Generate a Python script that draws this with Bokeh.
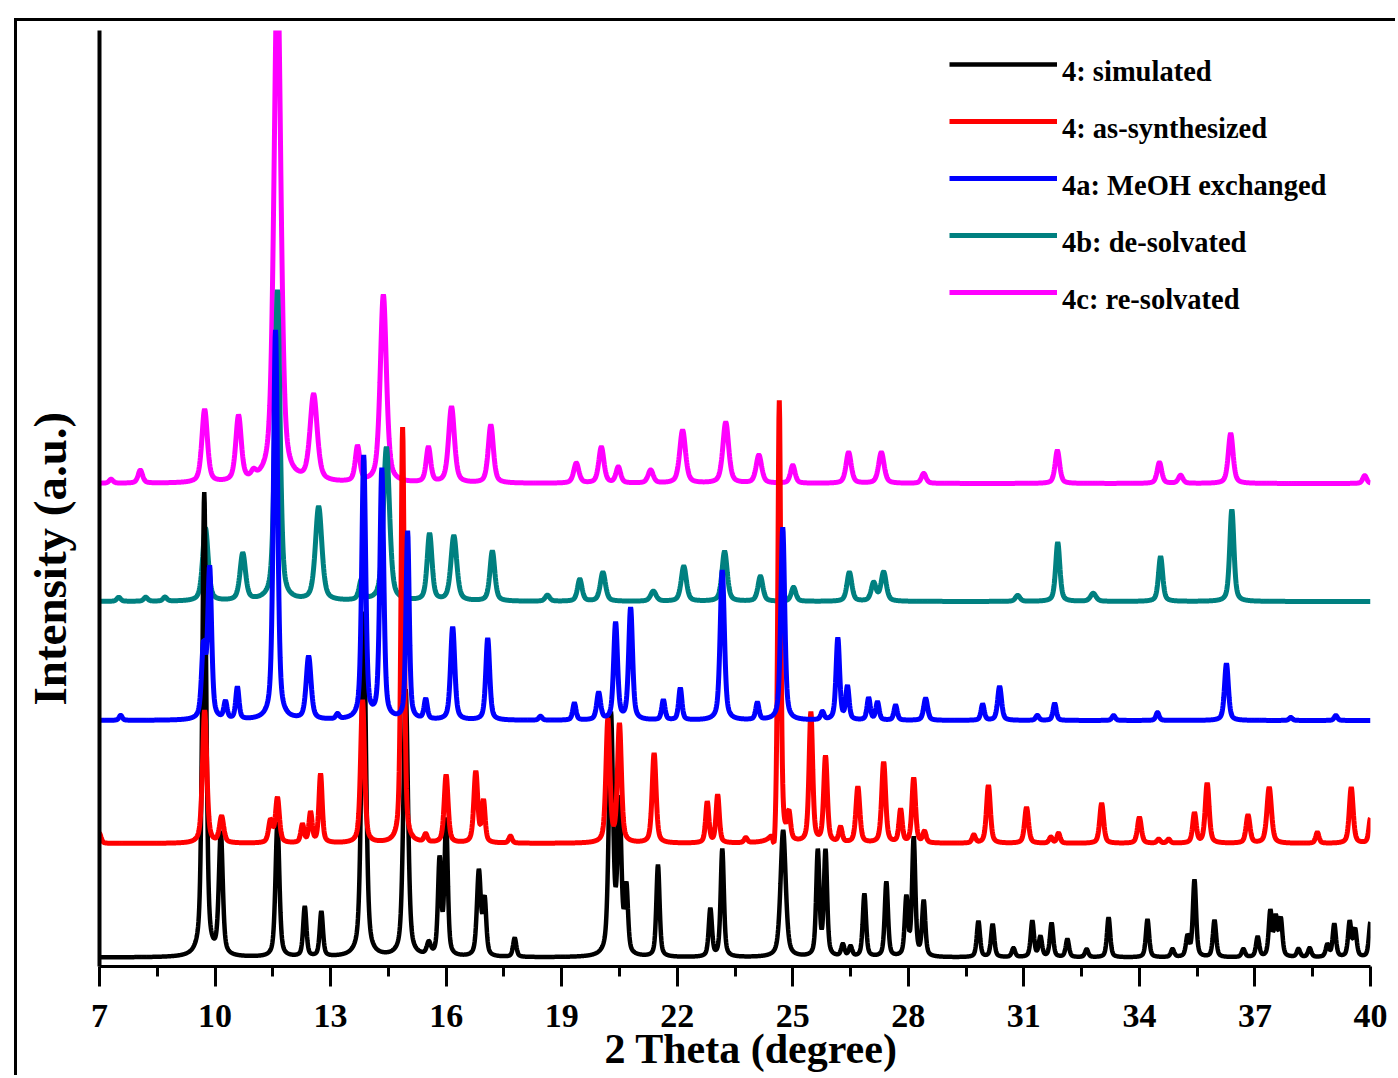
import numpy as np
from bokeh.plotting import figure
from bokeh.models import Range1d, FixedTicker, Legend, LegendItem, Title
from bokeh.embed import file_html
from bokeh.resources import INLINE

# ---- axis ticks -------------------------------------------------------
major_ticks = [7, 10, 13, 16, 19, 22, 25, 28, 31, 34, 37, 40]
minor_ticks = [8.5, 11.5, 14.5, 17.5, 20.5, 23.5, 26.5, 29.5, 32.5, 35.5, 38.5]

# ---- series ------------------------------------------------------------
series_labels = ["4: simulated", "4: as-synthesized", "4a: MeOH exchanged",
                 "4b: de-solvated", "4c: re-solvated"]

# reflections: (2theta, intensity a.u., fwhm)
sim_peaks = [
    (9.72, 464, 0.12), (10.15, 122, 0.12), (11.62, 135, 0.12), (12.33, 50, 0.10),
    (12.76, 45, 0.10), (13.86, 345, 0.14), (14.95, 267, 0.14), (15.55, 12, 0.12),
    (15.83, 95, 0.10), (16.00, 135, 0.10), (16.85, 85, 0.12), (17.00, 55, 0.10),
    (17.78, 19, 0.10), (20.28, 240, 0.13), (20.50, 150, 0.12), (20.68, 65, 0.10),
    (21.50, 92, 0.10), (22.86, 48, 0.10), (23.17, 108, 0.10), (24.75, 127, 0.16),
    (25.65, 105, 0.10), (25.85, 105, 0.10), (26.30, 12, 0.10), (26.50, 10, 0.10),
    (26.86, 63, 0.10), (27.43, 75, 0.10), (27.95, 58, 0.10), (28.14, 118, 0.10),
    (28.40, 55, 0.10), (29.82, 36, 0.10), (30.19, 33, 0.10), (30.73, 9, 0.10),
    (31.22, 36, 0.10), (31.43, 20, 0.10), (31.72, 34, 0.10), (32.13, 18, 0.10),
    (32.63, 8, 0.10), (33.20, 40, 0.10), (34.21, 38, 0.10), (34.86, 8, 0.10),
    (35.25, 20, 0.10), (35.43, 77, 0.10), (35.95, 37, 0.10), (36.70, 8, 0.10),
    (37.07, 20, 0.10), (37.40, 45, 0.10), (37.54, 38, 0.10), (37.67, 37, 0.10),
    (38.13, 8, 0.10), (38.42, 9, 0.10), (38.88, 12, 0.10), (39.06, 33, 0.10),
    (39.46, 35, 0.10), (39.60, 27, 0.10), (40.00, 35, 0.10),
]

as_syn_peaks = [
    (7.00, 10, 0.10),
    (9.73, 133, 0.13), (10.17, 26, 0.13), (11.44, 22, 0.12), (11.62, 45, 0.12),
    (12.27, 18, 0.10), (12.48, 30, 0.10), (12.74, 69, 0.10), (13.83, 143, 0.12),
    (14.87, 416, 0.10), (15.47, 8, 0.10), (16.00, 68, 0.12), (16.77, 71, 0.12),
    (16.97, 41, 0.10), (17.67, 7, 0.10), (20.20, 123, 0.12), (20.50, 118, 0.12),
    (21.40, 90, 0.12), (22.78, 41, 0.10), (23.05, 48, 0.10), (23.78, 5, 0.10),
    (24.52, -22, 0.08), (24.65, 443, 0.09), (24.90, 26, 0.10), (25.47, 130, 0.11),
    (25.85, 86, 0.11), (26.24, 15, 0.10), (26.69, 56, 0.12), (27.36, 81, 0.12),
    (27.80, 33, 0.10), (28.14, 65, 0.11), (28.42, 11, 0.10), (29.70, 8, 0.10),
    (30.08, 58, 0.12), (31.07, 36, 0.12), (31.70, 6, 0.10), (31.90, 10, 0.10),
    (33.02, 40, 0.12), (34.00, 26, 0.12), (34.50, 4, 0.10), (34.76, 4, 0.10),
    (35.43, 30, 0.11), (35.76, 60, 0.12), (36.82, 28, 0.12), (37.37, 56, 0.14),
    (38.62, 11, 0.10), (39.50, 56, 0.12), (40.00, 25, 0.10),
]

meoh_peaks = [
    (7.55, 5, 0.10), (9.70, 70, 0.12), (9.86, 150, 0.12), (10.27, 17, 0.10),
    (10.58, 32, 0.10), (11.57, 390, 0.13), (12.43, 63, 0.15), (13.18, 5, 0.10),
    (13.86, 263, 0.12), (14.33, 250, 0.12), (15.00, 188, 0.10), (15.47, 20, 0.10),
    (16.17, 93, 0.13), (17.08, 82, 0.12), (18.45, 4, 0.10), (19.33, 17, 0.10),
    (19.96, 27, 0.12), (20.40, 97, 0.12), (20.79, 112, 0.12), (21.64, 20, 0.10),
    (22.08, 32, 0.10), (23.17, 150, 0.13), (24.08, 17, 0.10), (24.74, 193, 0.12),
    (25.77, 8, 0.10), (26.17, 82, 0.11), (26.42, 33, 0.10), (26.97, 22, 0.10),
    (27.20, 18, 0.10), (27.67, 15, 0.10), (28.45, 22, 0.12), (29.93, 16, 0.10),
    (30.37, 34, 0.12), (31.35, 5, 0.10), (31.80, 17, 0.10), (33.33, 5, 0.10),
    (34.47, 8, 0.10), (36.26, 57, 0.12), (37.93, 3, 0.10), (39.10, 5, 0.10),
]

desolv_peaks = [
    (7.50, 4, 0.12), (8.20, 4, 0.12), (8.70, 4, 0.12),
    (9.75, 73, 0.17), (10.72, 47, 0.17), (11.62, 311, 0.16), (12.69, 94, 0.20),
    (13.80, 20, 0.14), (14.45, 154, 0.19), (15.57, 67, 0.15), (16.20, 65, 0.18),
    (17.20, 50, 0.15), (18.63, 6, 0.14), (19.47, 22, 0.14), (20.07, 29, 0.16),
    (21.38, 10, 0.17), (22.17, 35, 0.16), (23.23, 50, 0.16), (24.16, 25, 0.15),
    (25.02, 14, 0.14), (26.47, 29, 0.15), (27.10, 18, 0.15), (27.36, 29, 0.16),
    (30.84, 6, 0.14), (31.88, 59, 0.13), (32.80, 8, 0.17), (34.55, 45, 0.13),
    (36.40, 92, 0.13),
]

resolv_peaks = [
    (7.30, 4, 0.12), (8.06, 13, 0.14), (9.73, 73, 0.17), (10.61, 65, 0.17),
    (11.00, 6, 0.14), (11.62, 520, 0.21), (12.56, 86, 0.22), (13.70, 35, 0.14),
    (14.37, 188, 0.19), (15.54, 35, 0.14), (16.14, 76, 0.18), (17.16, 58, 0.16),
    (19.38, 20, 0.16), (20.03, 36, 0.16), (20.47, 16, 0.14), (21.31, 13, 0.16),
    (22.14, 53, 0.18), (23.26, 61, 0.18), (24.12, 28, 0.17), (25.00, 18, 0.14),
    (26.45, 31, 0.16), (27.30, 31, 0.17), (28.40, 10, 0.14), (31.87, 33, 0.14),
    (34.52, 21, 0.14), (35.07, 8, 0.14), (36.37, 50, 0.15), (39.85, 8, 0.12),
]

# vertical stacking of the patterns (a.u.)
stack_offset = [9, 123, 246, 365, 483]
series_peaks = [sim_peaks, as_syn_peaks, meoh_peaks, desolv_peaks, resolv_peaks]
series_colors = ["#000000", "#ff0000", "#0000ff", "#008080", "#ff00ff"]
series_widths = [4.5, 5, 5, 5, 5]

two_theta = np.linspace(7.0, 40.0, 3301)


def pattern(peaks, eta=0.5):
    """Pseudo-Voigt sum over the listed reflections."""
    y = np.zeros_like(two_theta)
    for c, h, w in peaks:
        d = (two_theta - c) / w
        y += h * (eta / (1.0 + 4.0 * d * d) + (1.0 - eta) * np.exp(-4.0 * np.log(2.0) * d * d))
    return y


FONT = "Liberation Serif"

p = figure(width=1381, height=1057, output_backend="svg", toolbar_location=None,
           x_range=Range1d(7, 40), y_range=Range1d(0, 936),
           min_border_left=82, min_border_right=28, min_border_top=9,
           min_border_bottom=112)
p.styles = {"margin-left": "14px", "margin-top": "18px",
            "border-left": "3px solid black", "border-top": "3px solid black"}
p.outline_line_color = None
p.xgrid.visible = False
p.ygrid.visible = False
p.background_fill_color = "white"
p.border_fill_color = "white"

# x axis
xa = p.xaxis[0]
xa.ticker = FixedTicker(ticks=major_ticks, minor_ticks=minor_ticks)
xa.axis_line_width = 3
xa.major_tick_line_width = 3
xa.minor_tick_line_width = 3
xa.major_tick_in = 0
xa.major_tick_out = 20
xa.minor_tick_in = 0
xa.minor_tick_out = 10
xa.major_label_standoff = 18
xa.major_label_text_font = FONT
xa.major_label_text_font_style = "bold"
xa.major_label_text_font_size = "34px"
xa.major_label_text_color = "black"

# y axis: bare line; a blank axis label keeps a gap before the title
ya = p.yaxis[0]
ya.ticker = FixedTicker(ticks=[])
ya.axis_line_width = 4
ya.major_tick_line_color = None
ya.minor_tick_line_color = None
ya.major_label_text_font_size = "0px"
ya.axis_label = " "
ya.axis_label_text_font = FONT
ya.axis_label_text_font_size = "15px"
ya.axis_label_standoff = 2

renderers = {}
draw_order = [4, 3, 0, 1, 2]
for i in draw_order:
    r = p.line(two_theta, pattern(series_peaks[i]) + stack_offset[i],
               line_color=series_colors[i], line_width=series_widths[i])
    renderers[i] = r

# legend: sample lines and their captions (captions sit a little lower)
legend_lines = Legend(items=[LegendItem(label=" ", renderers=[renderers[i]])
                             for i in range(5)],
                      location=(850, 659), orientation="vertical",
                      glyph_width=108, glyph_height=20, label_height=30, spacing=27,
                      padding=0, margin=0, label_standoff=0,
                      border_line_color=None, background_fill_alpha=0,
                      label_text_font_size="24px")
legend_text = Legend(items=[LegendItem(label=series_labels[i], renderers=[renderers[i]])
                            for i in range(5)],
                     location=(963, 650), orientation="vertical",
                     glyph_width=0, glyph_height=20, label_height=33, spacing=24,
                     padding=0, margin=0, label_standoff=0,
                     border_line_color=None, background_fill_alpha=0,
                     label_text_font=FONT, label_text_font_style="bold",
                     label_text_font_size="28.5px", label_text_color="black")
p.add_layout(legend_lines)
p.add_layout(legend_text)

p.add_layout(Title(text="2 Theta (degree)", align="left", offset=505, standoff=-12,
                   text_font=FONT, text_font_style="bold", text_font_size="42px",
                   text_color="black"), "below")
p.add_layout(Title(text="Intensity (a.u.)", align="left", offset=261, standoff=5,
                   text_font=FONT, text_font_style="bold", text_font_size="47px",
                   text_color="black"), "left")

open("out.html", "w").write(file_html(p, INLINE))
